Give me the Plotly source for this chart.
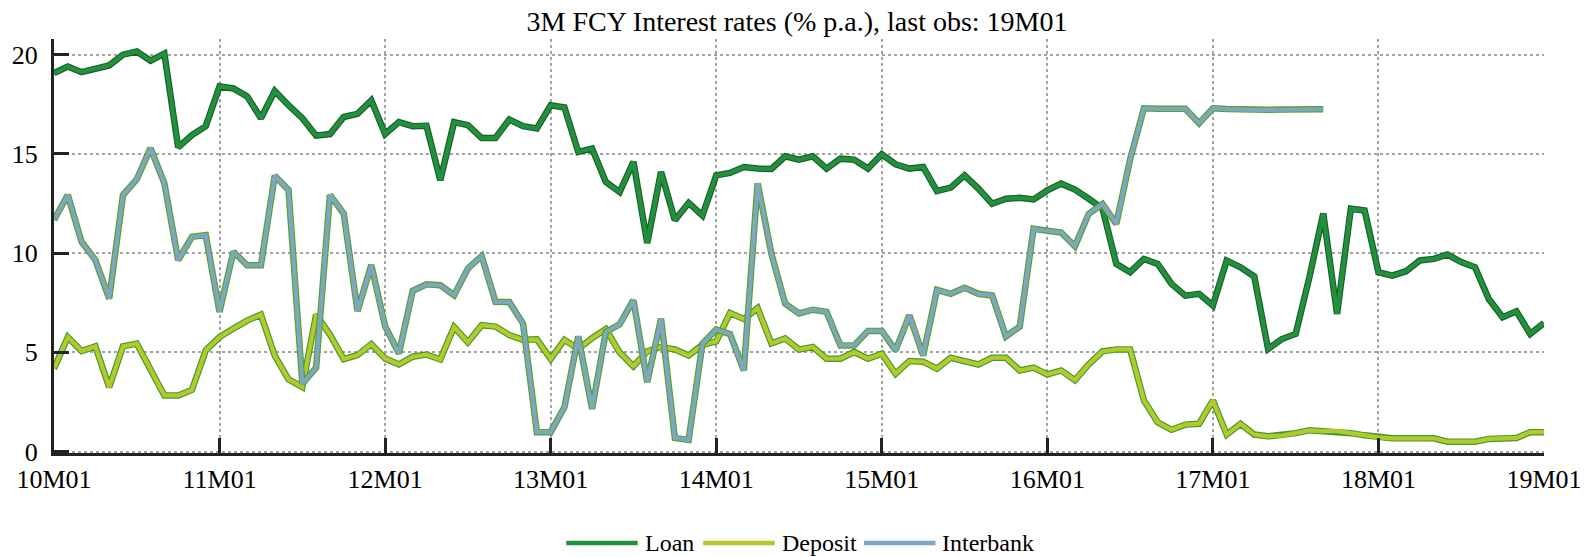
import plotly.graph_objects as go

# Monthly observations, 10M01 .. 19M01
months = [f"{y:02d}M{m:02d}" for y in range(10, 19) for m in range(1, 13)] + ["19M01"]
year_ticks = ["10M01", "11M01", "12M01", "13M01", "14M01", "15M01", "16M01", "17M01", "18M01", "19M01"]

loan = [
    19.07, 19.40, 19.12, 19.30, 19.46, 20.00, 20.16, 19.70, 20.05, 15.33, 15.95, 16.40,
    18.40, 18.30, 17.90, 16.80, 18.17, 17.45, 16.80, 15.92, 16.00, 16.86, 17.02, 17.70,
    16.00, 16.60, 16.40, 16.42, 13.67, 16.60, 16.45, 15.80, 15.80, 16.73, 16.40, 16.28,
    17.45, 17.34, 15.10, 15.27, 13.59, 13.08, 14.60, 10.51, 14.10, 11.66, 12.53, 11.90,
    13.92, 14.04, 14.34, 14.26, 14.24, 14.88, 14.71, 14.88, 14.26, 14.76, 14.71, 14.26,
    14.98, 14.48, 14.26, 14.34, 13.13, 13.30, 13.92, 13.25, 12.49, 12.74, 12.79, 12.71,
    13.16, 13.50, 13.20, 12.74, 12.24, 9.46, 9.04, 9.71, 9.46, 8.45, 7.86, 7.95,
    7.36, 9.63, 9.29, 8.82, 5.17, 5.67, 5.93, 8.80, 12.00, 6.94, 12.24, 12.15,
    9.04, 8.87, 9.09, 9.63, 9.71, 9.93, 9.55, 9.29, 7.69, 6.77, 7.07, 5.93,
    6.48,
]

deposit = [
    4.18, 5.77, 5.07, 5.30, 3.25, 5.30, 5.44, 4.09, 2.83, 2.83, 3.11, 5.10,
    5.77, 6.20, 6.60, 6.90, 4.83, 3.64, 3.26, 6.90, 5.90, 4.66, 4.86, 5.42,
    4.69, 4.39, 4.78, 4.89, 4.64, 6.28, 5.51, 6.37, 6.30, 5.87, 5.63, 5.66,
    4.67, 5.63, 5.18, 5.72, 6.17, 5.00, 4.30, 5.05, 5.27, 5.15, 4.84, 5.38,
    5.55, 6.98, 6.68, 7.23, 5.45, 5.70, 5.14, 5.27, 4.68, 4.68, 5.02, 4.68,
    4.93, 3.92, 4.56, 4.53, 4.18, 4.73, 4.56, 4.39, 4.73, 4.73, 4.09, 4.23,
    3.89, 4.09, 3.60, 4.40, 5.05, 5.15, 5.15, 2.58, 1.48, 1.10, 1.36, 1.40,
    2.58, 0.86, 1.40, 0.86, 0.77, 0.81, 0.93, 1.07, 1.03, 1.03, 0.93, 0.82,
    0.72, 0.67, 0.67, 0.67, 0.67, 0.50, 0.50, 0.50, 0.64, 0.69, 0.69, 0.98,
    0.98,
]

interbank = [
    11.67, 12.93, 10.57, 9.65, 7.71, 12.93, 13.72, 15.29, 13.52, 9.65, 10.82, 10.91,
    7.04, 10.07, 9.39, 9.39, 13.90, 13.18, 3.43, 4.23, 12.93, 12.00, 7.08, 9.40,
    6.32, 4.94, 8.10, 8.43, 8.38, 7.88, 9.23, 9.85, 7.55, 7.54, 6.45, 0.98,
    0.98, 2.24, 5.81, 2.15, 6.03, 6.41, 7.63, 3.50, 6.70, 0.69, 0.59, 5.43,
    6.15, 5.92, 4.09, 13.52, 9.97, 7.45, 6.96, 7.15, 7.04, 5.35, 5.35, 6.08,
    6.08, 5.10, 6.87, 4.84, 8.15, 7.95, 8.25, 7.95, 7.87, 5.80, 6.30, 11.23,
    11.13, 11.04, 10.35, 11.98, 12.47, 11.48, 14.72, 17.30, 17.27, 17.27, 17.27, 16.55,
    17.30, 17.26, 17.22, 17.22, 17.22, 17.24, 17.22, 17.25, 17.25,
]

series = [
    ("Loan", loan, "#22903d", "#17602a"),
    ("Deposit", deposit, "#b8c82b", "#3c9c34"),
    ("Interbank", interbank, "#7fa6bf", "#58a12c"),
]

FONT = "'Liberation Serif', 'Times New Roman', Times, 'DejaVu Serif', serif"
W, H = 1594, 557
L, R, T, B = 49, 44, 39, 104

fig = go.Figure()
for name, vals, fill, edge in series:
    xs = months[:len(vals)]
    # darker edge underneath, coloured core on top
    fig.add_trace(go.Scatter(x=xs, y=vals, mode="lines", showlegend=False,
                             line=dict(color=edge, width=6.5), hoverinfo="skip"))
    fig.add_trace(go.Scatter(x=xs, y=vals, mode="lines", name=name, showlegend=False,
                             line=dict(color=fill, width=4.2)))

# legend drawn below the plot
pw, ph = W - L - R, H - T - B
def px_x(px):
    return (px - L) / pw
def px_y(py):
    return (H - B - py) / ph

legend_items = [("Loan", "#22903d", 565, 637), ("Deposit", "#b8c82b", 703, 775),
                ("Interbank", "#7fa6bf", 865, 937)]
shapes, annotations = [], []
ly = 543
for name, col, x0, x1 in legend_items:
    shapes.append(dict(type="line", xref="paper", yref="paper",
                       x0=px_x(x0), x1=px_x(x1), y0=px_y(ly), y1=px_y(ly),
                       line=dict(color=col, width=4.6)))
    annotations.append(dict(text=name, xref="paper", yref="paper", x=px_x(x1 + 5), y=px_y(ly),
                            xanchor="left", yanchor="middle", showarrow=False,
                            font=dict(family=FONT, size=24, color="#000")))

fig.update_layout(
    width=W, height=H,
    margin=dict(l=L, r=R, t=T, b=B),
    paper_bgcolor="white", plot_bgcolor="white",
    font=dict(family=FONT, color="#000"),
    title=dict(text="3M FCY Interest rates (% p.a.), last obs: 19M01",
               font=dict(family=FONT, size=28, color="#000"),
               x=0.5, xref="container", xanchor="center",
               y=1 - 21 / H, yref="container", yanchor="middle"),
    shapes=shapes, annotations=annotations,
    showlegend=False,
)

fig.update_xaxes(
    type="category", categoryorder="array", categoryarray=months,
    range=[0, len(months) - 1],
    tickmode="array", tickvals=year_ticks, ticktext=year_ticks,
    ticks="inside", ticklen=15, tickwidth=3, tickcolor="#222",
    showline=True, linecolor="#222", linewidth=3,
    showgrid=True, gridcolor="#a3a3a3", gridwidth=2, griddash="dot",
    tickfont=dict(family=FONT, size=26, color="#000"),
    ticklabelstandoff=1,
    zeroline=False,
)
fig.update_yaxes(
    range=[-0.07, 20.79],
    tickmode="array", tickvals=[0, 5, 10, 15, 20],
    ticks="inside", ticklen=15, tickwidth=3, tickcolor="#222",
    showline=True, linecolor="#222", linewidth=3,
    showgrid=True, gridcolor="#a3a3a3", gridwidth=2, griddash="dot",
    tickfont=dict(family=FONT, size=26, color="#000"),
    ticklabelstandoff=8,
    zeroline=False,
)

fig.write_html("out.html")
